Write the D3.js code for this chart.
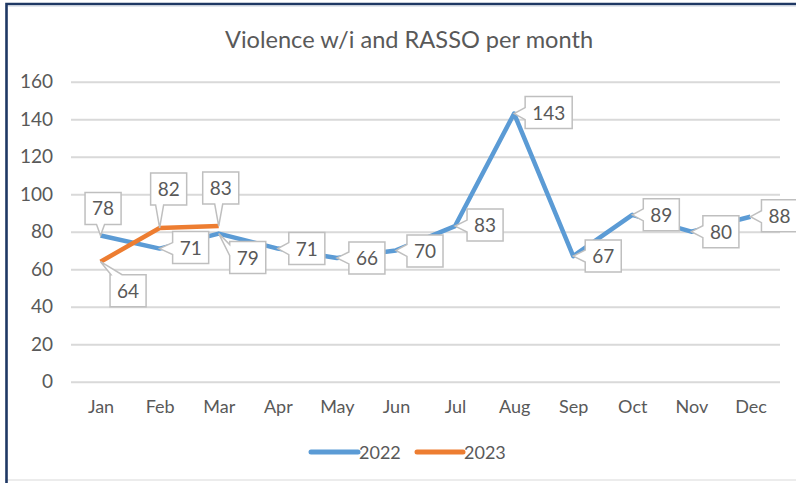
<!DOCTYPE html>
<html lang="en">
<head>
  <meta charset="utf-8">
  <script src="https://d3js.org/d3.v7.min.js"></script>
  <style>
    body { margin: 0; background: #fff; }
    text { font-family: Lato, "Liberation Sans", sans-serif; fill: #595959; }
  </style>
</head>
<body>
  <svg width="796" height="483" id="chart"></svg>
  <script>
    // data
    const months = ["Jan", "Feb", "Mar", "Apr", "May", "Jun", "Jul", "Aug", "Sep", "Oct", "Nov", "Dec"];
    const values2022 = [78, 71, 79, 71, 66, 70, 83, 143, 67, 89, 80, 88];
    const values2023 = [64, 82, 83];
    const yTicks = [0, 20, 40, 60, 80, 100, 120, 140, 160];
    const seriesNames = ["2022", "2023"];
    const colors = ["#5b9bd5", "#ed7d31"];

    // callout placement: box offset from point and side where the pointer sits
    const labelPos2022 = [
      [-15.5, -43, "bottom"], [13, -17, "left"], [11, 8, "left"], [11, -16, "left"],
      [12, -16, "left"], [11, -15.5, "left"], [12, -17, "left"], [11, -17, "left"],
      [12, -16, "left"], [11, -16, "left"], [11.5, -16, "left"], [11, -17, "left"]
    ];
    const labelPos2023 = [[9.5, 13, "top"], [-9, -55, "bottom"], [-16, -54, "bottom"]];

    const svg = d3.select("#chart");

    // outer frame
    svg.append("line").attr("x1", 5).attr("x2", 796).attr("y1", 480).attr("y2", 480)
      .attr("stroke", "#e6e6e6").attr("stroke-width", 1.5);
    svg.append("path").attr("d", "M6.5,490 V4 H800")
      .attr("fill", "none").attr("stroke", "#1f3864").attr("stroke-width", 2.6);
    svg.append("line").attr("x1", 8).attr("x2", 796).attr("y1", 6).attr("y2", 6)
      .attr("stroke", "#c9d0dd").attr("stroke-width", 1);

    let x = d3.scalePoint().domain(months).range([71, 780]).padding(0.5);
    let y = d3.scaleLinear().domain([0, 160]).range([381.7, 81.7]);

    svg.append("text")
      .attr("x", 409).attr("y", 48)
      .attr("text-anchor", "middle")
      .style("font-size", "23.6px")
      .text("Violence w/i and RASSO per month");

    // gridlines + y labels
    let yAxis = svg.append("g").attr("transform", "translate(71,0)")
      .call(d3.axisLeft(y).tickValues(yTicks).tickSize(-709).tickPadding(18));
    yAxis.select(".domain").remove();
    yAxis.selectAll("line").attr("stroke", "#d9d9d9").attr("stroke-width", 2);
    yAxis.selectAll("text").style("font-size", "19px").attr("fill", "#595959");

    let xAxis = svg.append("g").attr("transform", "translate(0,381.7)")
      .call(d3.axisBottom(x).tickSize(0).tickPadding(19));
    xAxis.select(".domain").remove();
    xAxis.selectAll("text").style("font-size", "18px").attr("fill", "#595959");

    let line = d3.line().x((d, i) => x(months[i])).y(d => y(d));

    [values2022, values2023].forEach((vals, s) => {
      svg.append("path").datum(vals)
        .attr("d", line)
        .attr("fill", "none")
        .attr("stroke", colors[s])
        .attr("stroke-width", 4.5)
        .attr("stroke-linejoin", "round");
    });

    function callout(px, py, val, pos) {
      let g = svg.append("g");
      let t = g.append("text").style("font-size", "19px").attr("text-anchor", "middle").text(val);
      let w = t.node().getComputedTextLength() + 14;
      let h = 32;
      let x0 = px + pos[0], y0 = py + pos[1], x1 = x0 + w, y1 = y0 + h;
      let side = pos[2];
      let tip = px + "," + py;
      let d = "M" + x0 + "," + y0;
      if (side === "top") d += " L" + (x0 + 1) + "," + y0 + " L" + tip + " L" + (x0 + 12) + "," + y0;
      d += " L" + x1 + "," + y0 + " L" + x1 + "," + y1;
      if (side === "bottom") {
        let b1 = Math.max(x0 + 2, px - 4), b2 = Math.min(x1 - 2, px + 4);
        d += " L" + b2 + "," + y1 + " L" + tip + " L" + b1 + "," + y1;
      }
      d += " L" + x0 + "," + y1;
      if (side === "left") {
        let b2 = Math.min(y1 - 3, Math.max(py + 6, y0 + 14));
        let b1 = Math.max(y0 + 3, b2 - 12);
        d += " L" + x0 + "," + b2 + " L" + tip + " L" + x0 + "," + b1;
      }
      d += " Z";
      g.insert("path", "text").attr("d", d)
        .attr("fill", "#fff").attr("stroke", "#bfbfbf").attr("stroke-width", 1.5)
        .attr("stroke-linejoin", "miter");
      t.attr("x", x0 + w / 2).attr("y", y0 + 23);
    }

    values2022.forEach((v, i) => callout(x(months[i]), y(v), v, labelPos2022[i]));
    values2023.forEach((v, i) => callout(x(months[i]), y(v), v, labelPos2023[i]));

    // legend
    let legend = svg.append("g").attr("transform", "translate(0,452)");
    [[311, 358], [417, 463]].forEach((xs, s) => {
      legend.append("line").attr("x1", xs[0]).attr("x2", xs[1])
        .attr("stroke", colors[s]).attr("stroke-width", 5).attr("stroke-linecap", "round");
      legend.append("text").attr("x", xs[1] + 1).attr("y", 6.5)
        .style("font-size", "18px").text(seriesNames[s]);
    });
  </script>
</body>
</html>
